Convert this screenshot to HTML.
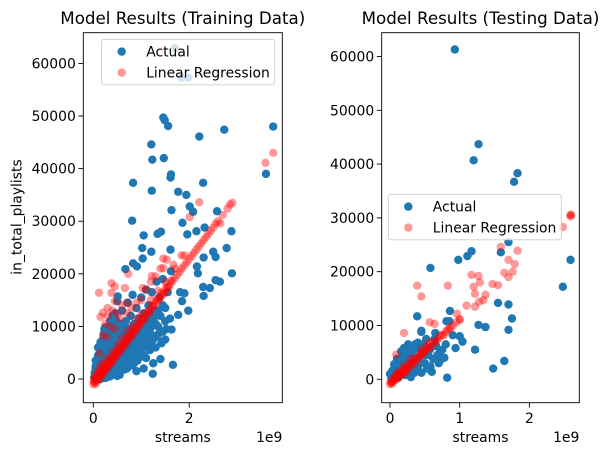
<!DOCTYPE html>
<html><head><meta charset="utf-8">
<style>
html,body{margin:0;padding:0;background:#fff;}
svg{display:block;font-family:"DejaVu Sans","Liberation Sans",sans-serif;}
</style></head>
<body>
<svg id="chart" width="608" height="455" viewBox="0 0 608 455" xmlns="http://www.w3.org/2000/svg"></svg>
<script>
// ---- data (streams in 1e9, playlists in thousands) ----
const trainActualX = [1.70,1.84,1.98,1.46,1.49,1.56,2.21,2.73,3.75,1.21,1.23,1.47,1.62,1.61,0.83,1.22,1.77,1.94,2.29,3.60,2.01,1.63,2.08,2.58,0.81,1.86,1.96,2.15,2.32,2.88,1.05,1.34,1.41,1.02,1.21,1.61,2.50,2.55,2.30,2.78,0.67,0.83,1.03,0.91,2.16,2.18,2.89,2.55,2.64,2.29,2.43,2.30,1.81,1.90,1.85,1.98,1.77,1.63,1.43,1.66,1.24,0.51,0.23,0.46,
0.02,0.03,0.05,0.05,0.07,0.08,0.1,0.1,0.12,0.12,0.15,0.15,0.18,0.18,0.2,0.2,0.22,0.22,0.25,0.25,0.28,0.28,0.3,0.3,0.32,0.32,0.35,0.35,0.38,0.38,0.4,0.4,0.42,0.45,0.45,0.48,0.5,0.5,0.52,0.55,0.55,0.58,0.6,0.6,0.62,0.65,0.65,0.68,0.7,0.7,0.72,0.75,0.75,0.78,0.8,0.8,0.82,0.85,0.85,0.88,0.9,0.9,0.92,0.95,0.95,0.98,1.0,1.0,1.02,1.05,1.05,1.08,1.1,1.1,1.12,1.15,1.15,1.18,1.2,1.2,1.22,1.25,1.28,1.3,1.32,1.35,1.38,1.4,1.42,1.45,1.5,1.52,1.55,1.6,1.62,1.4,1.25,0.9,1.05,0.6,0.35,0.5,0.25];
const trainActualY = [62.9,57.3,57.3,49.7,49.2,48.1,46.1,47.4,48.0,44.6,41.7,42.0,38.9,38.3,37.3,35.8,35.6,35.0,37.3,39.0,32.8,32.1,31.8,31.9,30.1,29.7,27.5,28.1,28.8,28.1,27.3,27.6,28.0,24.9,24.2,24.6,24.2,23.2,23.1,24.9,20.9,22.0,22.9,21.4,21.4,20.1,20.1,18.8,18.5,17.5,17.3,15.8,16.5,16.3,14.8,13.0,12.2,9.4,7.1,2.7,1.0,15.7,9.5,11.4,
0.3,1.2,0.5,2.0,1.0,3.1,0.2,1.8,4.0,0.8,2.5,5.2,1.2,3.6,0.5,6.1,2.2,8.6,4.4,1.0,3.0,7.0,0.4,5.5,2.0,9.2,3.8,6.8,1.5,8.0,4.6,10.5,2.8,6.0,12.5,3.5,8.2,0.6,5.0,10.0,2.4,7.0,4.0,13.0,9.0,5.6,1.8,11.0,7.5,3.2,14.5,9.5,5.0,12.0,6.4,2.6,16.0,10.5,4.2,8.0,13.5,6.0,3.5,11.5,8.5,5.5,15.5,10.0,7.0,12.5,4.5,9.0,17.0,6.5,11.0,14.0,8.0,5.5,12.5,9.8,16.5,7.5,13.0,10.5,18.5,8.5,15.5,12.0,6.8,19.0,13.5,9.5,16.5,11.5,20.5,3.8,3.0,1.5,2.0,8.8,11.0,14.8,9.8];
const trainActualX2 = [0.05,0.05,0.05,0.05,0.1,0.1,0.1,0.1,0.15,0.15,0.15,0.15,0.15,0.2,0.2,0.2,0.2,0.2,0.25,0.25,0.25,0.25,0.25,0.3,0.3,0.3,0.3,0.3,0.35,0.35,0.35,0.35,0.35,0.4,0.4,0.4,0.4,0.4,0.45,0.45,0.45,0.45,0.45,0.5,0.5,0.5,0.5,0.5,0.55,0.55,0.55,0.55,0.55,0.6,0.6,0.6,0.6,0.6,0.65,0.65,0.65,0.65,0.7,0.7,0.7,0.7,0.7,0.75,0.75,0.75,0.75,0.8,0.8,0.8,0.8,0.85,0.85,0.85,0.85,0.9,0.9,0.9,0.9,0.95,0.95,0.95,1.0,1.0,1.0,1.0,1.05,1.05,1.05,1.05,1.1,1.1,1.1,1.15,1.15,1.15,1.2,1.2,1.2,1.3,1.3,1.3,1.35,1.35,1.45,1.45,1.5,1.5];
const trainActualY2 = [0.0,1.0,2.5,3.5,0.5,2.8,4.5,6.0,0.0,1.5,3.0,4.0,7.0,1.0,2.0,3.5,4.8,7.5,0.2,2.5,5.5,8.5,3.2,1.2,3.0,4.0,6.5,8.0,0.5,2.5,4.8,7.5,9.5,1.0,3.2,6.0,8.5,12.0,2.0,4.0,5.2,7.2,9.8,1.5,3.5,6.0,7.0,10.8,0.8,3.2,5.0,6.5,8.5,2.0,4.8,5.8,7.0,10.5,3.0,4.0,6.5,7.5,2.0,4.5,5.5,6.5,9.5,3.5,4.5,7.0,8.0,4.0,5.5,7.5,9.0,3.0,5.5,7.0,8.5,4.5,7.0,9.0,10.5,4.0,6.5,7.5,5.0,6.0,8.0,9.0,6.0,7.5,9.5,10.5,4.0,8.0,9.5,6.5,10.0,11.5,7.0,8.5,11.0,6.0,8.0,12.0,10.0,13.0,9.0,14.0,11.0,7.5];
const trainPredX = [0.0,0.02,0.04,0.06,0.08,0.1,0.12,0.14,0.16,0.18,0.2,0.22,0.25,0.28,0.3,0.33,0.36,0.4,0.43,0.46,0.5,0.53,0.56,0.6,0.63,0.66,0.7,0.73,0.76,0.8,0.84,0.88,0.92,0.96,1.0,1.05,1.1,1.15,1.2,1.25,1.3,1.35,1.4,1.45,1.5,1.55,1.6,1.65,1.7,1.75,1.8,1.85,1.9,1.95,2.0,2.05,2.1,2.15,2.2,2.25,2.3,2.35,2.4,2.45,2.5,2.6,2.7,2.8,2.9,2.85,2.65,2.55,0.3,0.5,0.7,0.9,0.2,0.4,0.6,0.8,1.0,1.2,1.35,1.5,1.7,1.9,0.1,0.15,0.03,
0.12,0.15,0.2,0.3,0.38,0.45,0.66,0.73,0.70,0.38,0.45,0.2,0.13,1.03,1.22,1.46,1.53,1.67,1.84,2.21,2.01,3.59,3.75,1.46];
const trainPredY = [-1.0,-0.6,-0.5,0.0,0.2,0.3,0.6,0.8,1.0,1.2,1.5,1.6,2.0,2.3,2.6,3.0,3.3,3.8,4.1,4.5,5.0,5.3,5.7,6.1,6.5,6.9,7.3,7.7,8.0,8.5,9.0,9.5,9.9,10.4,10.9,11.5,12.1,12.7,13.3,13.9,14.5,15.1,15.6,16.2,16.8,17.4,18.0,18.6,19.2,19.8,20.4,21.0,21.6,22.2,22.8,23.4,24.0,24.6,25.2,25.8,26.4,27.0,27.6,28.2,28.8,30.0,31.2,32.4,33.5,33.2,29.6,29.5,4.0,6.5,9.0,11.5,3.0,5.2,7.8,10.0,12.4,15.0,16.8,18.5,21.0,23.5,1.5,2.5,0.5,
16.4,11.8,12.6,13.5,18.2,17.6,17.3,20.0,14.5,16.4,14.8,8.3,4.9,17.3,19.6,21.1,22.7,21.7,23.5,33.6,30.8,41.1,43.0,22.9];
const trainPredX2 = [0.01,0.03,0.05,0.07,0.09,0.11,0.13,0.15,0.17,0.19,0.21,0.23,0.26,0.29,0.31,0.34,0.37,0.39,0.42,0.45,0.48,0.51,0.54,0.58,0.61,0.64,0.68,0.71,0.75,0.78,0.82,0.86,0.9,0.94,0.98,1.02,1.07,1.12,1.17,1.22,1.27,1.32,1.37,1.42,1.47,1.52,1.57,1.62,
0.25,0.3,0.35,0.4,0.5,0.55,0.6,0.28,0.45,0.7,0.8,0.9,1.0,1.1,1.2,1.3,1.4];
const trainPredY2 = [-0.3,0.2,-0.9,0.6,-0.3,1.0,0.0,1.5,0.5,2.0,1.0,2.5,1.6,3.0,2.2,3.6,2.9,4.2,3.5,4.9,4.2,5.6,5.0,6.4,5.8,7.1,6.6,7.9,7.5,8.7,8.3,9.7,9.3,10.6,10.3,11.6,11.4,12.8,12.6,14.0,13.8,15.2,15.0,16.4,16.2,17.5,17.4,18.7,
10.5,12.0,10.0,13.0,12.5,11.5,14.0,8.0,9.5,12.5,13.5,14.5,15.0,17.0,18.5,19.5,21.0];
const testActualX = [0.93,1.27,1.20,1.83,1.78,1.70,1.59,1.17,1.11,0.98,0.58,2.59,2.48,1.55,1.70,1.75,1.70,1.27,1.37,1.22,1.64,1.48,0.82,0.39,0.86,0.81,1.00,1.04,0.94,0.71,0.60,0.64,0.45,
0.0,0.02,0.05,0.05,0.08,0.1,0.12,0.12,0.15,0.18,0.18,0.2,0.2,0.22,0.25,0.25,0.28,0.3,0.3,0.32,0.35,0.35,0.38,0.4,0.4,0.42,0.45,0.45,0.48,0.5,0.52,0.55,0.58,0.6,0.65,0.68,0.7,0.75,0.8,0.85,0.9,
0.03,0.06,0.09,0.1,0.14,0.16,0.2,0.22,0.24,0.27,0.3,0.33,0.36,0.38,0.42,0.44,0.5,0.53,0.57,0.62,0.66,0.72,0.78,0.48,0.26];
const testActualY = [61.3,43.7,40.7,38.3,36.7,25.5,23.6,23.8,22.9,22.2,20.7,22.2,17.2,14.2,13.9,11.3,9.2,10.1,9.7,5.5,3.4,2.0,0.3,11.7,12.7,10.8,8.0,7.0,5.8,3.3,1.4,7.5,9.0,
1.0,0.2,1.8,0.5,2.5,1.0,3.2,0.3,2.0,4.2,1.2,5.8,2.8,0.8,3.8,6.2,1.8,4.8,0.4,2.6,5.5,1.2,3.5,6.8,2.0,4.2,1.2,8.8,5.0,3.0,7.5,4.5,2.4,6.0,8.6,4.5,3.0,5.5,6.5,10.8,8.2,
1.5,2.8,0.2,3.8,1.5,5.2,4.0,3.0,1.5,5.0,2.0,4.0,6.5,2.4,5.8,3.0,4.5,2.0,5.5,3.8,6.2,5.2,4.0,6.5,6.5];
const testPredX = [0.0,0.02,0.04,0.06,0.08,0.1,0.12,0.14,0.16,0.18,0.2,0.23,0.26,0.29,0.32,0.35,0.38,0.41,0.44,0.47,0.5,0.53,0.56,0.6,0.65,0.7,0.75,0.8,0.85,0.9,0.95,1.0,0.1,0.2,0.3,0.45,0.55,2.59,2.6,0.22,
0.39,0.45,0.83,0.20,0.09,0.57,0.64,1.17,1.27,1.20,1.29,1.22,1.37,1.34,1.10,1.22,1.28,1.47,1.55,1.59,1.70,1.83,1.79,1.64,1.70,1.76,2.48,2.59,0.96,1.00,
0.01,0.03,0.05,0.07,0.09,0.11,0.13,0.15,0.17,0.19,0.21,0.24,0.27,0.3,0.33,0.36,0.39,0.42,0.46,0.49,0.52,0.57,0.62,0.67,0.72,0.77,0.82,0.87];
const testPredY = [-0.9,-0.6,-0.4,-0.1,0.2,0.4,0.6,0.9,1.1,1.4,1.6,2.0,2.3,2.7,3.0,3.4,3.8,4.1,4.5,4.8,5.2,5.6,5.9,6.4,7.0,7.6,8.2,8.8,9.4,10.0,10.6,11.2,1.2,2.5,3.8,5.6,6.8,30.3,30.6,1.2,
17.4,15.4,17.4,8.6,4.6,10.6,10.3,19.4,19.2,17.2,18.0,15.9,15.7,14.7,13.7,13.5,14.4,17.7,17.5,24.6,22.2,23.9,21.4,19.8,19.0,20.0,28.3,30.5,12.2,11.0,
-0.5,-0.8,0.3,-0.2,0.8,0.2,1.2,0.6,1.6,1.0,2.0,1.6,2.9,2.4,3.6,3.1,4.2,4.0,5.0,5.0,6.0,6.0,7.0,7.2,8.2,8.2,9.2,9.6];
const yTicks = [0,10000,20000,30000,40000,50000,60000];
const leftXTicks = [0,2];
const rightXTicks = [0,1,2];

const NS = "http://www.w3.org/2000/svg";
const svg = document.getElementById('chart');
function mk(tag, attrs, parent){
  const e = document.createElementNS(NS, tag);
  for (const k in attrs) e.setAttribute(k, attrs[k]);
  (parent||svg).appendChild(e);
  return e;
}

function panel(cfg){
  const g = mk('g', {});
  
  
  const sx = v => cfg.x0 + (v - cfg.xmin) / (cfg.xmax - cfg.xmin) * (cfg.x1 - cfg.x0);
  const sy = v => cfg.y1 - (v - cfg.ymin) / (cfg.ymax - cfg.ymin) * (cfg.y1 - cfg.y0);
  for (let i = 0; i < cfg.ax.length; i++) {
    const c = mk('circle', {cx: sx(cfg.ax[i]), cy: sy(cfg.ay[i]*1000), r: 4.2, fill: '#1f77b4'}, g);
    
    
  }
  for (let i = 0; i < cfg.px.length; i++) {
    const c = mk('circle', {cx: sx(cfg.px[i]), cy: sy(cfg.py[i]*1000), r: 4.2, fill: 'red', 'fill-opacity': 0.4}, g);
    
    
  }
  const fr = mk('rect', {x: cfg.x0, y: cfg.y0, width: cfg.x1-cfg.x0, height: cfg.y1-cfg.y0, fill: 'none', stroke: '#000', 'stroke-width': 0.9}, g);
  
  
  for (const t of yTicks) {
    const y = sy(t);
    mk('line', {x1: cfg.x0-4.9, x2: cfg.x0, y1: y, y2: y, stroke: '#000', 'stroke-width': 0.9}, g);
    const tx = mk('text', {x: cfg.x0-7.5, y: y+5, 'text-anchor': 'end', 'font-size': 13.9, fill: '#000'}, g);
    tx.textContent = String(t);
    
    
  }
  for (const t of cfg.xt) {
    const x = sx(t);
    mk('line', {x1: x, x2: x, y1: cfg.y1, y2: cfg.y1+4.9, stroke: '#000', 'stroke-width': 0.9}, g);
    const tx = mk('text', {x: x, y: cfg.y1+20.5, 'text-anchor': 'middle', 'font-size': 13.9, fill: '#000'}, g);
    tx.textContent = String(t);
    
    
  }
  const t = mk('text', {x: (cfg.x0+cfg.x1)/2, y: 24, 'text-anchor': 'middle', 'font-size': 16.7, fill: '#000'}, g);
  t.textContent = cfg.title;
  
  
  const xl = mk('text', {x: (cfg.x0+cfg.x1)/2, y: 442, 'text-anchor': 'middle', 'font-size': 13.9, fill: '#000'}, g);
  xl.textContent = 'streams';
  
  
  const ex = mk('text', {x: cfg.x1, y: 442, 'text-anchor': 'end', 'font-size': 13.9, fill: '#000'}, g);
  ex.textContent = '1e9';
  
  
  const lg = mk('g', {}, g);
  
  
  mk('rect', {x: cfg.lx, y: cfg.ly, width: 173, height: 45.5, rx: 2.5, fill: '#fff', 'fill-opacity': 0.8, stroke: '#ccc', 'stroke-width': 0.9}, lg);
  mk('circle', {cx: cfg.lx+20, cy: cfg.ly+12.3, r: 4.2, fill: '#1f77b4'}, lg);
  mk('circle', {cx: cfg.lx+20, cy: cfg.ly+33.3, r: 4.2, fill: 'red', 'fill-opacity': 0.4}, lg);
  const a = mk('text', {x: cfg.lx+44.5, y: cfg.ly+17.3, 'font-size': 13.9, fill: '#000'}, lg);
  a.textContent = 'Actual';
  
  
  const b = mk('text', {x: cfg.lx+44.5, y: cfg.ly+38.3, 'font-size': 13.9, fill: '#000'}, lg);
  b.textContent = 'Linear Regression';
  
  
}

panel({name:'training-panel', title:'Model Results (Training Data)', x0:83.3, x1:282.3, y0:32.7, y1:402.7,
  xmin:-0.208, xmax:3.94, ymin:-4500, ymax:65840, xt:leftXTicks,
  ax:trainActualX.concat(trainActualX2), ay:trainActualY.concat(trainActualY2),
  px:trainPredX.concat(trainPredX2), py:trainPredY.concat(trainPredY2), lx:101.7, ly:39.3});
panel({name:'testing-panel', title:'Model Results (Testing Data)', x0:381.7, x1:579.3, y0:32.7, y1:402.7,
  xmin:-0.119, xmax:2.716, ymin:-4350, ymax:64420, xt:rightXTicks,
  ax:testActualX, ay:testActualY, px:testPredX, py:testPredY, lx:388.3, ly:194.3});

const yl = mk('text', {x: 0, y: 0, transform: 'translate(21.5,217) rotate(-90)', 'text-anchor': 'middle', 'font-size': 13.9, fill: '#000'});
yl.textContent = 'in_total_playlists';


</script>
</body></html>
